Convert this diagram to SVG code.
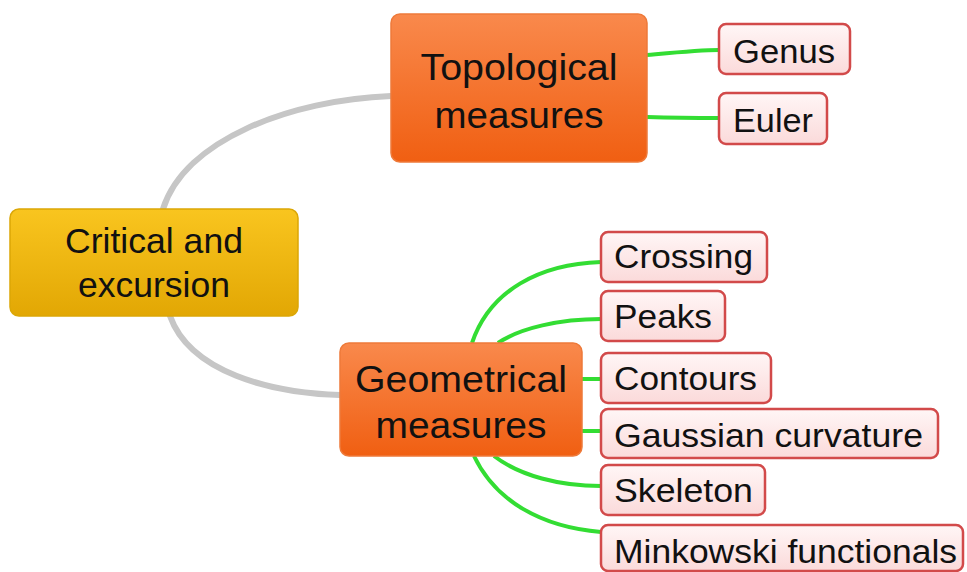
<svg xmlns="http://www.w3.org/2000/svg" width="967" height="572" viewBox="0 0 967 572">
<defs>
<linearGradient id="gY" x1="0" y1="0" x2="0" y2="1"><stop offset="0" stop-color="#f9c51f"/><stop offset="1" stop-color="#e2a704"/></linearGradient>
<linearGradient id="gO" x1="0" y1="0" x2="0" y2="1"><stop offset="0" stop-color="#f9894c"/><stop offset="1" stop-color="#f05f12"/></linearGradient>
<linearGradient id="gL" x1="0" y1="0" x2="0" y2="1"><stop offset="0" stop-color="#fff6f6"/><stop offset="1" stop-color="#fbdada"/></linearGradient>
</defs>
<style>
.gray{fill:none;stroke:#c6c6c6;stroke-width:6;stroke-linecap:round}
.grn{fill:none;stroke:#33dd33;stroke-width:4}
.root{fill:url(#gY);stroke:#dba706;stroke-width:1.5}
.mid{fill:url(#gO);stroke:#ee7a3a;stroke-width:1.5}
.leaf{fill:url(#gL);stroke:#d24a4a;stroke-width:2.5}
text{font-family:"Liberation Sans",Arial,sans-serif;fill:#111}
.t1{font-size:35px;text-anchor:middle}
.t2{font-size:37px;text-anchor:middle}
.tl{font-size:33px}
</style>
<rect width="967" height="572" fill="#ffffff"/>
<g id="connectors">
<path class="gray" d="M163,209 C185,140 290,100 391,96"/>
<path class="gray" d="M170,316 C190,372 270,393 340,395"/>
<path class="grn" d="M647,55 C680,52 700,50 719,50"/>
<path class="grn" d="M647,117 C680,118 700,118 719,118"/>
<path class="grn" d="M472,343 C490,290 540,264 601,262"/>
<path class="grn" d="M498,343 C520,328 560,319 601,319"/>
<path class="grn" d="M582,379 L601,379"/>
<path class="grn" d="M582,431 L601,431"/>
<path class="grn" d="M494,456 C520,476 560,486 601,486"/>
<path class="grn" d="M474,456 C495,500 540,527 601,532"/>
</g>
<g id="critical">
<rect class="root" x="10" y="209" width="288" height="107" rx="9"/>
<text class="t1" x="154" y="253" textLength="178" lengthAdjust="spacingAndGlyphs">Critical and</text>
<text class="t1" x="154" y="297" textLength="152" lengthAdjust="spacingAndGlyphs">excursion</text>
</g>
<g id="topological">
<rect class="mid" x="391" y="14" width="256" height="148" rx="9"/>
<text class="t2" x="519" y="80" textLength="197" lengthAdjust="spacingAndGlyphs">Topological</text>
<text class="t2" x="519" y="128" textLength="169" lengthAdjust="spacingAndGlyphs">measures</text>
</g>
<g id="geometrical">
<rect class="mid" x="340" y="343" width="242" height="113" rx="9"/>
<text class="t2" x="461" y="392" textLength="212" lengthAdjust="spacingAndGlyphs">Geometrical</text>
<text class="t2" x="461" y="438" textLength="171" lengthAdjust="spacingAndGlyphs">measures</text>
</g>
<g id="genus">
<rect class="leaf" x="719" y="24" width="131" height="50" rx="7"/>
<text class="tl" x="733" y="63" textLength="102" lengthAdjust="spacingAndGlyphs">Genus</text>
</g>
<g id="euler">
<rect class="leaf" x="719" y="93" width="108" height="51" rx="7"/>
<text class="tl" x="733" y="132" textLength="80" lengthAdjust="spacingAndGlyphs">Euler</text>
</g>
<g id="crossing">
<rect class="leaf" x="601" y="232" width="166" height="50" rx="7"/>
<text class="tl" x="614" y="268" textLength="139" lengthAdjust="spacingAndGlyphs">Crossing</text>
</g>
<g id="peaks">
<rect class="leaf" x="601" y="291" width="124" height="50" rx="7"/>
<text class="tl" x="614" y="328" textLength="98" lengthAdjust="spacingAndGlyphs">Peaks</text>
</g>
<g id="contours">
<rect class="leaf" x="601" y="353" width="170" height="50" rx="7"/>
<text class="tl" x="614" y="390" textLength="143" lengthAdjust="spacingAndGlyphs">Contours</text>
</g>
<g id="gaussian">
<rect class="leaf" x="601" y="409" width="337" height="49" rx="7"/>
<text class="tl" x="614" y="447" textLength="309" lengthAdjust="spacingAndGlyphs">Gaussian curvature</text>
</g>
<g id="skeleton">
<rect class="leaf" x="601" y="465" width="164" height="50" rx="7"/>
<text class="tl" x="614" y="502" textLength="139" lengthAdjust="spacingAndGlyphs">Skeleton</text>
</g>
<g id="minkowski">
<rect class="leaf" x="601" y="525" width="362" height="46" rx="7"/>
<text class="tl" x="614" y="563" textLength="343" lengthAdjust="spacingAndGlyphs">Minkowski functionals</text>
</g>
</svg>
